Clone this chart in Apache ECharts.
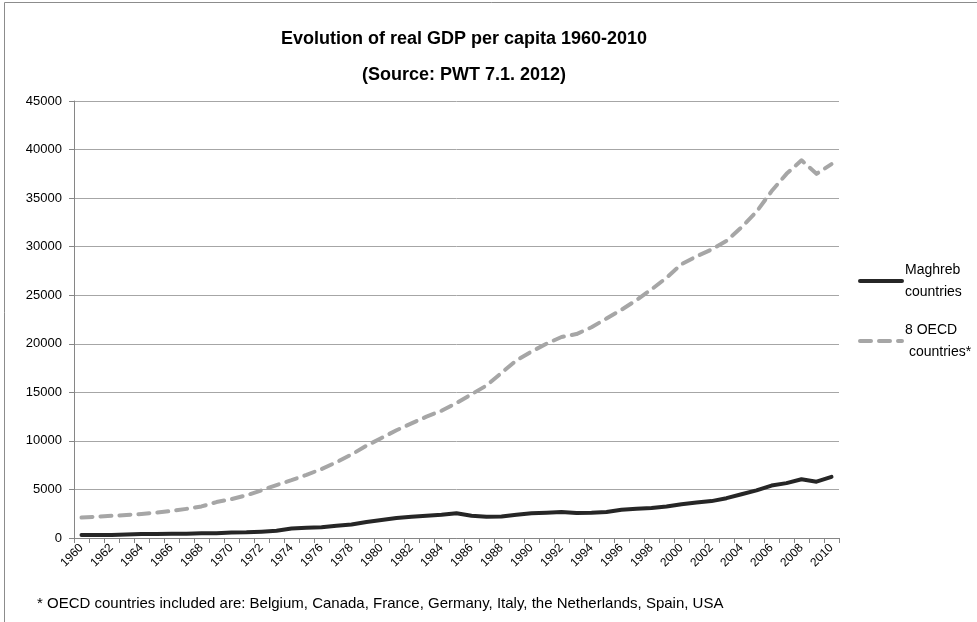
<!DOCTYPE html>
<html>
<head>
<meta charset="utf-8">
<script src="https://cdn.jsdelivr.net/npm/echarts@6/dist/echarts.min.js"></script>
<style>
html,body{margin:0;padding:0;background:#fff;}
#chart{width:977px;height:622px;}
</style>
</head>
<body>
<div id="chart"></div>
<script>
const years = [];
for (let y = 1960; y <= 2010; y++) years.push(String(y));

const maghreb = [300,310,320,360,400,420,430,440,480,500,
  560,580,650,750,980,1050,1100,1250,1400,1650,
  1850,2050,2200,2300,2400,2550,2300,2200,2220,2400,
  2550,2600,2680,2580,2600,2680,2900,3000,3100,3250,
  3480,3650,3800,4100,4500,4900,5400,5650,6050,5800,6300];

const oecd = [2100,2200,2280,2370,2480,2620,2780,3000,3250,3700,
  4000,4400,4900,5450,5950,6500,7100,7800,8600,9500,
  10300,11100,11800,12500,13100,13900,14800,15700,17000,18300,
  19200,20000,20700,21000,21700,22600,23500,24500,25600,26800,
  28200,29000,29700,30600,32000,33600,35700,37500,38900,37500,38500];

const seriesNames = ['Maghreb countries', '8 OECD countries*'];
const legendText = {'Maghreb countries': 'Maghreb\ncountries', '8 OECD countries*': '8 OECD\n countries*'};
const titleLines = ['Evolution of real GDP per capita 1960-2010', '(Source: PWT 7.1. 2012)'];
const footnote = '* OECD countries included are: Belgium, Canada, France, Germany, Italy, the Netherlands, Spain, USA';

const FONT = 'Liberation Sans, Arial, sans-serif';
const chart = echarts.init(document.getElementById('chart'));
chart.setOption({
  backgroundColor: '#fff',
  animation: false,
  title: {
    text: titleLines.join('\n'),
    left: 459, top: 16, textAlign: 'center',
    textStyle: {fontFamily: FONT, fontWeight: 'bold', fontSize: 18, color: '#000', lineHeight: 36}
  },
  graphic: [
    {type: 'rect', shape: {x: 4.5, y: 2.5, width: 1000, height: 640}, style: {fill: 'none', stroke: '#8c8c8c', lineWidth: 1}, silent: true},
    {type: 'text', left: 37, top: 596, style: {text: footnote, font: '15px ' + FONT, fill: '#000'}}
  ],
  legend: {
    orient: 'vertical', left: 858, top: 259, padding: 0, itemWidth: 42, itemHeight: 14, itemGap: 16,
    data: seriesNames,
    formatter: n => legendText[n],
    itemStyle: {opacity: 0},
    lineStyle: {width: 4},
    textStyle: {fontFamily: FONT, fontSize: 14, color: '#000', lineHeight: 22, padding: [0, 0, 0, -2]}
  },
  grid: {left: 74, right: 138, top: 101, bottom: 84, containLabel: false},
  xAxis: {
    type: 'category', data: years, boundaryGap: true,
    axisLine: {lineStyle: {color: '#868686'}},
    axisTick: {show: true, interval: 0, length: 5, lineStyle: {color: '#868686'}},
    axisLabel: {interval: 1, rotate: 45, fontFamily: FONT, fontSize: 12, color: '#000', margin: 8}
  },
  yAxis: {
    type: 'value', min: 0, max: 45000, interval: 5000,
    axisLine: {show: true, lineStyle: {color: '#868686'}},
    axisTick: {show: true, length: 5, lineStyle: {color: '#868686'}},
    splitLine: {lineStyle: {color: '#a6a6a6'}},
    axisLabel: {fontFamily: FONT, fontSize: 13, color: '#000', margin: 12, formatter: v => String(v)}
  },
  series: [
    {name: seriesNames[0], type: 'line', data: maghreb, symbol: 'none',
     lineStyle: {color: '#262626', width: 4, cap: 'round', join: 'round'}, itemStyle: {color: '#262626'}},
    {name: seriesNames[1], type: 'line', data: oecd, symbol: 'none',
     lineStyle: {color: '#a6a6a6', width: 4, type: [11, 8], cap: 'round', join: 'round'}, itemStyle: {color: '#a6a6a6'}}
  ]
});
</script>
</body>
</html>
